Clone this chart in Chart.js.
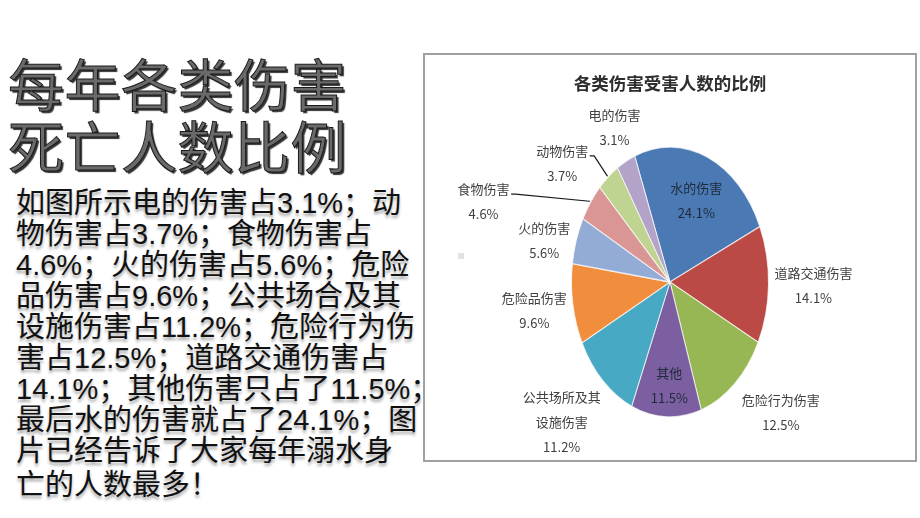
<!DOCTYPE html>
<html>
<head>
<meta charset="utf-8">
<script src="https://cdn.jsdelivr.net/npm/chart.js@4"></script>
<style>
  html, body { margin: 0; padding: 0; background: #fff; }
  body { width: 920px; height: 518px; position: relative; overflow: hidden; }
  #title {
    position: absolute; left: 8px; top: 51px;
    font-family: "Noto Sans CJK SC", sans-serif; font-size: 56px; line-height: 62px;
    color: #6a6a6a; -webkit-text-stroke: 1px #1a1a1a;
    text-shadow: 2px 2px 1px #333; white-space: nowrap; letter-spacing: 0.5px;
  }
  #body {
    position: absolute; left: 16px; top: 188px;
    font-family: "Liberation Sans", "Noto Sans CJK SC", sans-serif; font-size: 29px; line-height: 31px;
    color: #111; text-shadow: 0 3px 3px rgba(0,0,0,0.35); white-space: nowrap;
  }
  .cjk { font-family: "Noto Sans CJK SC", sans-serif; }
  #frame {
    position: absolute; left: 423px; top: 53px; width: 494px; height: 409px;
    box-sizing: border-box; border: 2px solid #a0a0a0; background: #fff;
  }
  #wrap { position: absolute; left: 424px; top: 54px; width: 492px; height: 406px; }
  #dot { position: absolute; left: 458px; top: 253px; width: 6px; height: 6px; background: #e2e2e2; }
</style>
</head>
<body>
<div id="title">每年各类伤害<br>死亡人数比例</div>
<div id="body">如图所示电的伤害占3.1%；动<br>物伤害占3.7%；食物伤害占<br>4.6%；火的伤害占5.6%；危险<br>品伤害占9.6%；公共场合及其<br>设施伤害占11.2%；危险行为伤<br>害占12.5%；道路交通伤害占<br>14.1%；其他伤害只占了11.5%；<br>最后水的伤害就占了24.1%；图<br>片已经告诉了大家每年溺水身<br>亡的人数最多<span class="cjk">！</span></div>
<div id="frame"></div>
<div id="dot"></div>
<div id="wrap"><canvas id="c" width="492" height="406"></canvas></div>
<script>
// ---- data ----
const chartTitle = "各类伤害受害人数的比例";
const categories = ["水的伤害", "道路交通伤害", "危险行为伤害", "其他", "公共场所及其设施伤害",
                    "危险品伤害", "火的伤害", "食物伤害", "动物伤害", "电的伤害"];
const percentages = [24.1, 14.1, 12.5, 11.5, 11.2, 9.6, 5.6, 4.6, 3.7, 3.1];
const sliceColors = ["#4a79b4", "#bb4a46", "#97b754", "#7c5fa0", "#47a9c3",
                     "#f18e3e", "#93acd6", "#d99694", "#bfd491", "#b3a3c8"];
// ---- layout tweaks for label placement (pixels), not data ----
const labelNudge = [[0, 6], [0, 0], [2, 3], [2, 9], [4, 3], [0, 0], [0, 12], [-75, 22], [-16, 12], [10, -8]];

const S = 1.37; // vertical stretch of the pie (drawn as an ellipse)

function wrapLabel(t) {
  const out = [];
  for (let i = 0; i < t.length; i += 6) out.push(t.slice(i, i + 6));
  return out;
}

function pieCenter(chart) {
  const a = chart.chartArea;
  return [(a.left + a.right) / 2, (a.top + a.bottom) / 2];
}

const stretchPlugin = {
  id: 'ellipseStretch',
  beforeDatasetsDraw(chart) {
    const [cx, cy] = pieCenter(chart);
    const ctx = chart.ctx;
    ctx.save();
    ctx.translate(cx, cy);
    ctx.scale(1, S);
    ctx.translate(-cx, -cy);
  },
  afterDatasetsDraw(chart) {
    chart.ctx.restore();
  }
};

const labelPlugin = {
  id: 'ellipseLabels',
  afterDraw(chart) {
    const ctx = chart.ctx;
    const meta = chart.getDatasetMeta(0);
    ctx.save();
    ctx.font = '13px "Noto Sans CJK SC"';
    const lh = 25, g = 6;
    const leaders = [];
    const texts = [];
    meta.data.forEach((arc, i) => {
      const p = arc.getProps(['x', 'y', 'startAngle', 'endAngle', 'outerRadius'], true);
      const a = (p.startAngle + p.endAngle) / 2;
      const cx = p.x, cy = p.y, rx = p.outerRadius, ry = p.outerRadius * S;
      const lines = wrapLabel(categories[i]).concat([percentages[i].toFixed(1) + '%']);
      const w = Math.max(...lines.map(l => ctx.measureText(l).width));
      const h = (lines.length - 1) * lh + 14;
      const delta = p.endAngle - p.startAngle;
      const chord = 2 * 0.7 * rx * Math.sin(delta / 2);
      const px = cx + rx * Math.cos(a), py = cy + ry * Math.sin(a);
      let lx, ly, inside = false;
      if (w < chord) {
        inside = true;
        lx = cx + 0.7 * rx * Math.cos(a);
        ly = cy + 0.7 * ry * Math.sin(a);
      } else {
        const fx = Math.max(-1, Math.min(1, 1.5 * Math.cos(a)));
        const fy = Math.max(-1, Math.min(1, 1.5 * Math.sin(a)));
        lx = px + fx * (w / 2 + g);
        ly = py + fy * (h / 2 + g);
      }
      const nd = labelNudge[i];
      lx += nd[0]; ly += nd[1];
      const topY = ly - (lines.length - 1) * lh / 2;
      if (!inside && Math.hypot(nd[0], nd[1]) > 15) {
        const side = Math.cos(a) < 0 ? 1 : -1;
        const ex = lx + side * (w / 2 + 2);
        const ey = topY + 5;
        leaders.push([px - side * 1, py - 1, ex + side * 4, ey, ex, ey]);
      }
      texts.push([lines, lx, topY, inside]);
    });
    ctx.setLineDash([]);
    ctx.strokeStyle = '#1a1a1a';
    ctx.lineWidth = 1.2;
    ctx.lineCap = 'round';
    leaders.forEach(L => {
      ctx.beginPath();
      ctx.moveTo(L[0], L[1]);
      ctx.lineTo(L[2], L[3]);
      ctx.lineTo(L[4], L[5]);
      ctx.stroke();
    });
    ctx.textAlign = 'center';
    ctx.textBaseline = 'middle';
    ctx.fillStyle = '#2e2e2e';
    ctx.font = 'bold 17.5px "Noto Sans CJK SC"';
    ctx.fillText(chartTitle, chart.width / 2, 29);
    ctx.font = '13px "Noto Sans CJK SC"';
    texts.forEach(([lines, lx, topY, inside]) => {
      ctx.fillStyle = inside ? '#1f2a3a' : '#404040';
      lines.forEach((l, k) => ctx.fillText(l, lx, topY + k * lh));
    });
    ctx.restore();
  }
};

new Chart(document.getElementById('c'), {
  type: 'pie',
  data: {
    labels: categories,
    datasets: [{
      data: percentages,
      backgroundColor: sliceColors,
      borderColor: 'rgba(255,255,255,0.7)',
      borderWidth: 1
    }]
  },
  options: {
    responsive: false,
    animation: false,
    rotation: -21,
    layout: { padding: { left: 147, right: 147, top: 129, bottom: 79 } },
    plugins: { legend: { display: false }, tooltip: { enabled: false }, title: { display: false } }
  },
  plugins: [stretchPlugin, labelPlugin]
});
</script>
</body>
</html>
